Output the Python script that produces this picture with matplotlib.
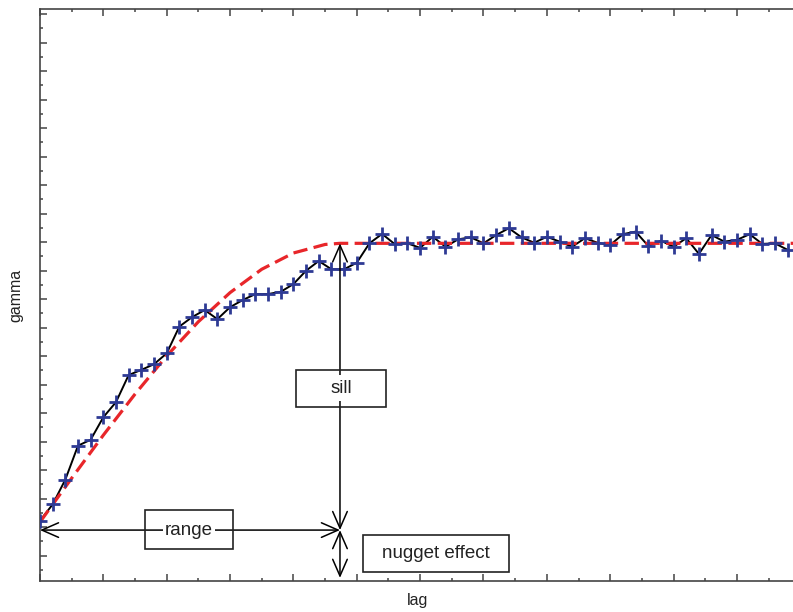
import matplotlib
matplotlib.use("Agg")
import matplotlib.pyplot as plt
from matplotlib.patches import FancyArrowPatch, Rectangle
from matplotlib.ticker import MultipleLocator

plt.rcParams["font.family"] = ["Liberation Sans", "DejaVu Sans"]

# experimental semivariogram, one point every 0.2 lag units
lag = [0.0, 0.2, 0.4, 0.6, 0.8, 1.0, 1.2, 1.4, 1.6, 1.8,
       2.0, 2.2, 2.4, 2.6, 2.8, 3.0, 3.2, 3.4, 3.6, 3.8,
       4.0, 4.2, 4.4, 4.6, 4.8, 5.0, 5.2, 5.4, 5.6, 5.8,
       6.0, 6.2, 6.4, 6.6, 6.8, 7.0, 7.2, 7.4, 7.6, 7.8,
       8.0, 8.2, 8.4, 8.6, 8.8, 9.0, 9.2, 9.4, 9.6, 9.8,
       10.0, 10.2, 10.4, 10.6, 10.8, 11.0, 11.2, 11.4, 11.6, 11.8]
gamma = [1.23, 1.80, 2.67, 3.86, 4.07, 4.86, 5.39, 6.34, 6.52, 6.72,
         7.10, 8.04, 8.37, 8.62, 8.30, 8.72, 8.97, 9.18, 9.18, 9.26,
         9.53, 10.00, 10.34, 10.05, 10.05, 10.28, 10.96, 11.29, 10.93, 10.96,
         10.80, 11.19, 10.84, 11.10, 11.17, 10.96, 11.25, 11.49, 11.17, 10.98,
         11.19, 11.02, 10.84, 11.14, 10.98, 10.90, 11.28, 11.37, 10.87, 11.05,
         10.84, 11.14, 10.59, 11.25, 11.02, 11.08, 11.28, 10.94, 10.96, 10.73]

# fitted model curve
model_lag = [0.0, 0.5, 1.0, 1.5, 2.0, 2.5, 3.0, 3.5, 4.0, 4.5, 4.735, 12.0]
model_gamma = [1.18, 2.72, 4.23, 5.67, 7.01, 8.21, 9.23, 10.05, 10.62, 10.92, 10.96, 10.96]

range_lag = 4.735
sill = 10.96
nugget = 0.90
y_bottom = -0.877

fig = plt.figure(figsize=(7.93, 6.12), dpi=100)
ax = fig.add_axes([0.0504, 0.0511, 0.9588, 0.9337])

ax.plot(lag, gamma, color="black", linewidth=1.4, zorder=2)
ax.plot(model_lag, model_gamma, color="#e8262a", linewidth=2.3,
        dashes=(4.5, 2), zorder=3)
ax.plot(lag, gamma, linestyle="none", marker="+", markersize=9.5,
        markeredgewidth=2.0, color="#2e3a94", zorder=4)

ax.set_xlim(0, 12)
ax.set_ylim(y_bottom, 19.17)
ax.xaxis.set_major_locator(MultipleLocator(1))
ax.xaxis.set_minor_locator(MultipleLocator(0.5))
ax.yaxis.set_major_locator(MultipleLocator(1))
ax.yaxis.set_minor_locator(MultipleLocator(0.5))
ax.tick_params(which="both", direction="in", top=True, right=False,
               labelbottom=False, labelleft=False, color="#444444", width=1.1)
ax.tick_params(which="major", length=5)
ax.tick_params(which="minor", length=2.5)
for side in ["left", "bottom", "top", "right"]:
    ax.spines[side].set_color("#444444")
    ax.spines[side].set_linewidth(1.2)

ax.set_xlabel("lag", fontsize=11.5, color="#222222")
ax.xaxis.set_label_coords(0.497, -0.022)
ax.set_ylabel("gamma", fontsize=11.5, color="#222222")
ax.yaxis.set_label_coords(-0.022, 0.5)


def double_arrow(p0, p1):
    arrow = FancyArrowPatch(p0, p1, arrowstyle="<->,head_length=0.8,head_width=0.35",
                            mutation_scale=15, color="black", linewidth=1.1,
                            shrinkA=0, shrinkB=0, zorder=5)
    ax.add_patch(arrow)


double_arrow((0, nugget), (range_lag, nugget))
double_arrow((range_lag, nugget), (range_lag, sill))
double_arrow((range_lag, nugget), (range_lag, y_bottom + 0.1))

label_font = dict(fontsize=13.5, color="#222222", ha="center", va="center", zorder=6)
ax.text(2.35, nugget, "range", bbox=dict(fc="white", ec="none", pad=1.5), **label_font)
ax.add_patch(Rectangle((1.657, 0.225), 1.389, 1.379, fill=False, ec="#222222", lw=1.2, zorder=6))
ax.text(4.75, 5.88, "sill", bbox=dict(fc="white", ec="none", pad=3), **label_font)
ax.add_patch(Rectangle((4.04, 5.23), 1.42, 1.29, fill=False, ec="#222222", lw=1.2, zorder=6))
ax.text(6.25, 0.095, "nugget effect", **label_font)
ax.add_patch(Rectangle((5.10, -0.561), 2.31, 1.287, fill=False, ec="#222222", lw=1.2, zorder=6))

fig.savefig("out.png", dpi=100)
